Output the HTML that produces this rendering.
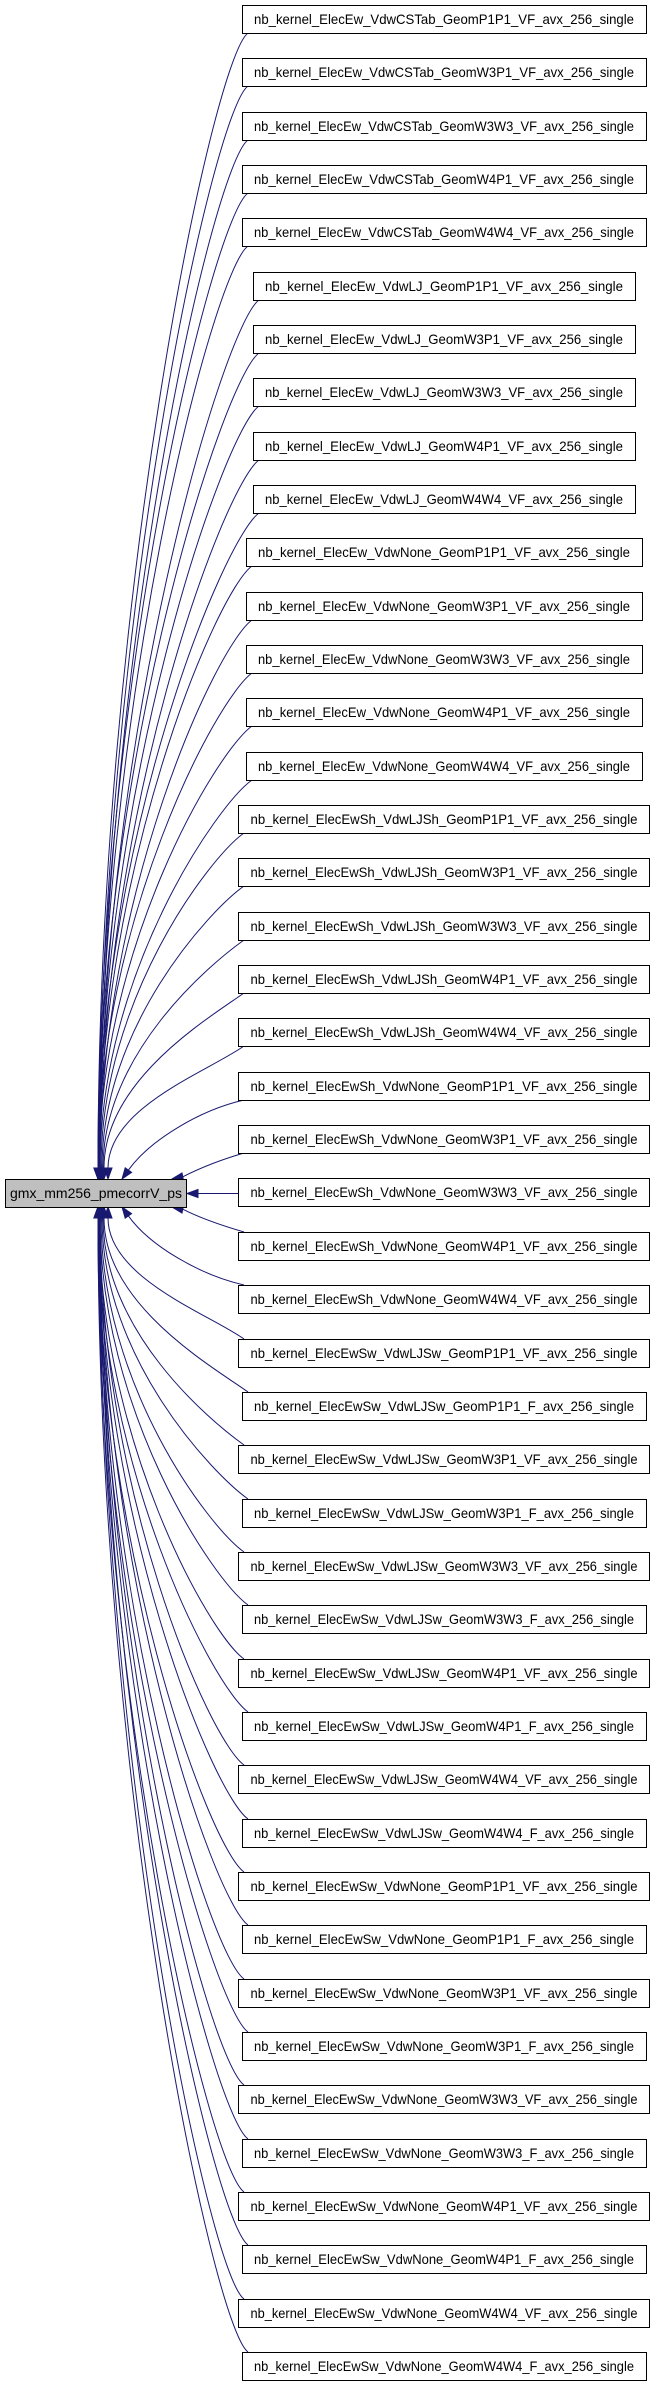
<!DOCTYPE html>
<html><head><meta charset="utf-8"><style>
html,body{margin:0;padding:0;background:#fff;width:659px;height:2387px;overflow:hidden}
svg{display:block}
text{font-family:"Liberation Sans",Arial,sans-serif;font-size:14px;fill:#000}
.e{fill:none;stroke:#191970;stroke-width:1}
.a{fill:#191970;stroke:#191970}
.b{fill:#fff;stroke:#000}
</style></head><body>
<svg width="659" height="2387" viewBox="0 0 659 2387" xmlns="http://www.w3.org/2000/svg">
<g>
<path class="e" d="M248,33 C213,58 98,600 98,1168"/><polygon class="a" points="98,1179 94,1168 102,1168"/>
<path class="e" d="M248,86 C213,111 99,627 99,1168"/><polygon class="a" points="99,1179 95,1168 103,1168"/>
<path class="e" d="M248,140 C213,165 100,654 100,1168"/><polygon class="a" points="100,1179 96,1168 104,1168"/>
<path class="e" d="M248,193 C213,218 98,680 98,1168"/><polygon class="a" points="98,1179 94,1168 102,1168"/>
<path class="e" d="M248,246 C213,271 99,707 99,1168"/><polygon class="a" points="99,1179 95,1168 103,1168"/>
<path class="e" d="M259,300 C224,325 100,734 100,1168"/><polygon class="a" points="100,1179 96,1168 104,1168"/>
<path class="e" d="M259,353 C224,378 98,760 98,1168"/><polygon class="a" points="98,1179 94,1168 102,1168"/>
<path class="e" d="M259,406 C224,431 99,787 99,1168"/><polygon class="a" points="99,1179 95,1168 103,1168"/>
<path class="e" d="M259,460 C224,485 100,814 100,1168"/><polygon class="a" points="100,1179 96,1168 104,1168"/>
<path class="e" d="M259,513 C224,538 98,840 98,1168"/><polygon class="a" points="98,1179 94,1168 102,1168"/>
<path class="e" d="M252,566 C217,591 99,867 99,1168"/><polygon class="a" points="99,1179 95,1168 103,1168"/>
<path class="e" d="M252,620 C217,645 100,894 100,1168"/><polygon class="a" points="100,1179 96,1168 104,1168"/>
<path class="e" d="M252,673 C217,698 98,920 98,1168"/><polygon class="a" points="98,1179 94,1168 102,1168"/>
<path class="e" d="M252,726 C217,751 99,947 99,1168"/><polygon class="a" points="99,1179 95,1168 103,1168"/>
<path class="e" d="M252,780 C217,805 100,974 100,1168"/><polygon class="a" points="100,1179 96,1168 104,1168"/>
<path class="e" d="M244,833 C209,858 101,1000 101,1168"/><polygon class="a" points="101,1179 97,1168 105,1168"/>
<path class="e" d="M244,886 C209,911 102,1027 102,1168"/><polygon class="a" points="102,1179 98,1168 106,1168"/>
<path class="e" d="M244,940 C209,965 103,1054 103,1168"/><polygon class="a" points="103,1179 99,1168 107,1168"/>
<path class="e" d="M244,993 C209,1018 104,1080 104,1168"/><polygon class="a" points="104,1179 100,1168 108,1168"/>
<path class="e" d="M244,1046 C209,1071 108,1107 108,1168"/><polygon class="a" points="108,1179 104,1168 112,1168"/>
<path class="e" d="M244,1100 C200,1110 150,1140 128.4,1170.1"/><polygon class="a" points="122,1179 131.6,1172.4 125.2,1167.8"/>
<path class="e" d="M244,1153 C220,1160 200,1168 182.8,1176.8"/><polygon class="a" points="172,1179 183.6,1180.7 182,1172.9"/>
<path class="e" d="M238,1193.5 L198,1193.5"/><polygon class="a" points="187,1193.5 198,1189.5 198,1197.5"/>
<path class="e" d="M244,1232 C220,1225 200,1218 182.8,1209.2"/><polygon class="a" points="172,1207 183.6,1205.3 182,1213.1"/>
<path class="e" d="M244,1285 C200,1275 150,1246 128.4,1215.9"/><polygon class="a" points="122,1207 131.6,1213.6 125.2,1218.2"/>
<path class="e" d="M244,1339 C209,1314 108,1278 108,1218"/><polygon class="a" points="108,1207 104,1218 112,1218"/>
<path class="e" d="M248,1392 C213,1367 104,1305 104,1218"/><polygon class="a" points="104,1207 100,1218 108,1218"/>
<path class="e" d="M244,1445 C209,1420 103,1331 103,1218"/><polygon class="a" points="103,1207 99,1218 107,1218"/>
<path class="e" d="M248,1499 C213,1474 102,1358 102,1218"/><polygon class="a" points="102,1207 98,1218 106,1218"/>
<path class="e" d="M244,1552 C209,1527 101,1385 101,1218"/><polygon class="a" points="101,1207 97,1218 105,1218"/>
<path class="e" d="M248,1605 C213,1580 100,1411 100,1218"/><polygon class="a" points="100,1207 96,1218 104,1218"/>
<path class="e" d="M244,1659 C209,1634 99,1438 99,1218"/><polygon class="a" points="99,1207 95,1218 103,1218"/>
<path class="e" d="M248,1712 C213,1687 98,1465 98,1218"/><polygon class="a" points="98,1207 94,1218 102,1218"/>
<path class="e" d="M244,1765 C209,1740 100,1491 100,1218"/><polygon class="a" points="100,1207 96,1218 104,1218"/>
<path class="e" d="M248,1819 C213,1794 99,1518 99,1218"/><polygon class="a" points="99,1207 95,1218 103,1218"/>
<path class="e" d="M244,1872 C209,1847 98,1545 98,1218"/><polygon class="a" points="98,1207 94,1218 102,1218"/>
<path class="e" d="M248,1925 C213,1900 100,1571 100,1218"/><polygon class="a" points="100,1207 96,1218 104,1218"/>
<path class="e" d="M244,1979 C209,1954 99,1598 99,1218"/><polygon class="a" points="99,1207 95,1218 103,1218"/>
<path class="e" d="M248,2032 C213,2007 98,1625 98,1218"/><polygon class="a" points="98,1207 94,1218 102,1218"/>
<path class="e" d="M244,2085 C209,2060 100,1651 100,1218"/><polygon class="a" points="100,1207 96,1218 104,1218"/>
<path class="e" d="M248,2139 C213,2114 99,1678 99,1218"/><polygon class="a" points="99,1207 95,1218 103,1218"/>
<path class="e" d="M244,2192 C209,2167 98,1705 98,1218"/><polygon class="a" points="98,1207 94,1218 102,1218"/>
<path class="e" d="M248,2245 C213,2220 100,1731 100,1218"/><polygon class="a" points="100,1207 96,1218 104,1218"/>
<path class="e" d="M244,2299 C209,2274 99,1758 99,1218"/><polygon class="a" points="99,1207 95,1218 103,1218"/>
<path class="e" d="M248,2352 C213,2327 98,1785 98,1218"/><polygon class="a" points="98,1207 94,1218 102,1218"/>
</g>
<rect x="5.5" y="1179.5" width="181" height="28" fill="#bfbfbf" stroke="#000"/>
<text x="96" y="1198" text-anchor="middle">gmx_mm256_pmecorrV_ps</text>
<g text-anchor="middle">
<rect class="b" x="242.5" y="5.5" width="404" height="28"/><text x="444" y="24" textLength="380" lengthAdjust="spacingAndGlyphs">nb_kernel_ElecEw_VdwCSTab_GeomP1P1_VF_avx_256_single</text>
<rect class="b" x="242.5" y="58.5" width="404" height="28"/><text x="444" y="77" textLength="380" lengthAdjust="spacingAndGlyphs">nb_kernel_ElecEw_VdwCSTab_GeomW3P1_VF_avx_256_single</text>
<rect class="b" x="242.5" y="112.5" width="404" height="28"/><text x="444" y="131" textLength="380" lengthAdjust="spacingAndGlyphs">nb_kernel_ElecEw_VdwCSTab_GeomW3W3_VF_avx_256_single</text>
<rect class="b" x="242.5" y="165.5" width="404" height="28"/><text x="444" y="184" textLength="380" lengthAdjust="spacingAndGlyphs">nb_kernel_ElecEw_VdwCSTab_GeomW4P1_VF_avx_256_single</text>
<rect class="b" x="242.5" y="218.5" width="404" height="28"/><text x="444" y="237" textLength="380" lengthAdjust="spacingAndGlyphs">nb_kernel_ElecEw_VdwCSTab_GeomW4W4_VF_avx_256_single</text>
<rect class="b" x="253.5" y="272.5" width="382" height="28"/><text x="444" y="291" textLength="358" lengthAdjust="spacingAndGlyphs">nb_kernel_ElecEw_VdwLJ_GeomP1P1_VF_avx_256_single</text>
<rect class="b" x="253.5" y="325.5" width="382" height="28"/><text x="444" y="344" textLength="358" lengthAdjust="spacingAndGlyphs">nb_kernel_ElecEw_VdwLJ_GeomW3P1_VF_avx_256_single</text>
<rect class="b" x="253.5" y="378.5" width="382" height="28"/><text x="444" y="397" textLength="358" lengthAdjust="spacingAndGlyphs">nb_kernel_ElecEw_VdwLJ_GeomW3W3_VF_avx_256_single</text>
<rect class="b" x="253.5" y="432.5" width="382" height="28"/><text x="444" y="451" textLength="358" lengthAdjust="spacingAndGlyphs">nb_kernel_ElecEw_VdwLJ_GeomW4P1_VF_avx_256_single</text>
<rect class="b" x="253.5" y="485.5" width="382" height="28"/><text x="444" y="504" textLength="358" lengthAdjust="spacingAndGlyphs">nb_kernel_ElecEw_VdwLJ_GeomW4W4_VF_avx_256_single</text>
<rect class="b" x="246.5" y="538.5" width="396" height="28"/><text x="444" y="557" textLength="372" lengthAdjust="spacingAndGlyphs">nb_kernel_ElecEw_VdwNone_GeomP1P1_VF_avx_256_single</text>
<rect class="b" x="246.5" y="592.5" width="396" height="28"/><text x="444" y="611" textLength="372" lengthAdjust="spacingAndGlyphs">nb_kernel_ElecEw_VdwNone_GeomW3P1_VF_avx_256_single</text>
<rect class="b" x="246.5" y="645.5" width="396" height="28"/><text x="444" y="664" textLength="372" lengthAdjust="spacingAndGlyphs">nb_kernel_ElecEw_VdwNone_GeomW3W3_VF_avx_256_single</text>
<rect class="b" x="246.5" y="698.5" width="396" height="28"/><text x="444" y="717" textLength="372" lengthAdjust="spacingAndGlyphs">nb_kernel_ElecEw_VdwNone_GeomW4P1_VF_avx_256_single</text>
<rect class="b" x="246.5" y="752.5" width="396" height="28"/><text x="444" y="771" textLength="372" lengthAdjust="spacingAndGlyphs">nb_kernel_ElecEw_VdwNone_GeomW4W4_VF_avx_256_single</text>
<rect class="b" x="238.5" y="805.5" width="411" height="28"/><text x="444" y="824" textLength="387" lengthAdjust="spacingAndGlyphs">nb_kernel_ElecEwSh_VdwLJSh_GeomP1P1_VF_avx_256_single</text>
<rect class="b" x="238.5" y="858.5" width="411" height="28"/><text x="444" y="877" textLength="387" lengthAdjust="spacingAndGlyphs">nb_kernel_ElecEwSh_VdwLJSh_GeomW3P1_VF_avx_256_single</text>
<rect class="b" x="238.5" y="912.5" width="411" height="28"/><text x="444" y="931" textLength="387" lengthAdjust="spacingAndGlyphs">nb_kernel_ElecEwSh_VdwLJSh_GeomW3W3_VF_avx_256_single</text>
<rect class="b" x="238.5" y="965.5" width="411" height="28"/><text x="444" y="984" textLength="387" lengthAdjust="spacingAndGlyphs">nb_kernel_ElecEwSh_VdwLJSh_GeomW4P1_VF_avx_256_single</text>
<rect class="b" x="238.5" y="1018.5" width="411" height="28"/><text x="444" y="1037" textLength="387" lengthAdjust="spacingAndGlyphs">nb_kernel_ElecEwSh_VdwLJSh_GeomW4W4_VF_avx_256_single</text>
<rect class="b" x="238.5" y="1072.5" width="411" height="28"/><text x="444" y="1091" textLength="387" lengthAdjust="spacingAndGlyphs">nb_kernel_ElecEwSh_VdwNone_GeomP1P1_VF_avx_256_single</text>
<rect class="b" x="238.5" y="1125.5" width="411" height="28"/><text x="444" y="1144" textLength="387" lengthAdjust="spacingAndGlyphs">nb_kernel_ElecEwSh_VdwNone_GeomW3P1_VF_avx_256_single</text>
<rect class="b" x="238.5" y="1178.5" width="411" height="28"/><text x="444" y="1197" textLength="387" lengthAdjust="spacingAndGlyphs">nb_kernel_ElecEwSh_VdwNone_GeomW3W3_VF_avx_256_single</text>
<rect class="b" x="238.5" y="1232.5" width="411" height="28"/><text x="444" y="1251" textLength="387" lengthAdjust="spacingAndGlyphs">nb_kernel_ElecEwSh_VdwNone_GeomW4P1_VF_avx_256_single</text>
<rect class="b" x="238.5" y="1285.5" width="411" height="28"/><text x="444" y="1304" textLength="387" lengthAdjust="spacingAndGlyphs">nb_kernel_ElecEwSh_VdwNone_GeomW4W4_VF_avx_256_single</text>
<rect class="b" x="238.5" y="1339.5" width="411" height="28"/><text x="444" y="1358" textLength="387" lengthAdjust="spacingAndGlyphs">nb_kernel_ElecEwSw_VdwLJSw_GeomP1P1_VF_avx_256_single</text>
<rect class="b" x="242.5" y="1392.5" width="404" height="28"/><text x="444" y="1411" textLength="380" lengthAdjust="spacingAndGlyphs">nb_kernel_ElecEwSw_VdwLJSw_GeomP1P1_F_avx_256_single</text>
<rect class="b" x="238.5" y="1445.5" width="411" height="28"/><text x="444" y="1464" textLength="387" lengthAdjust="spacingAndGlyphs">nb_kernel_ElecEwSw_VdwLJSw_GeomW3P1_VF_avx_256_single</text>
<rect class="b" x="242.5" y="1499.5" width="404" height="28"/><text x="444" y="1518" textLength="380" lengthAdjust="spacingAndGlyphs">nb_kernel_ElecEwSw_VdwLJSw_GeomW3P1_F_avx_256_single</text>
<rect class="b" x="238.5" y="1552.5" width="411" height="28"/><text x="444" y="1571" textLength="387" lengthAdjust="spacingAndGlyphs">nb_kernel_ElecEwSw_VdwLJSw_GeomW3W3_VF_avx_256_single</text>
<rect class="b" x="242.5" y="1605.5" width="404" height="28"/><text x="444" y="1624" textLength="380" lengthAdjust="spacingAndGlyphs">nb_kernel_ElecEwSw_VdwLJSw_GeomW3W3_F_avx_256_single</text>
<rect class="b" x="238.5" y="1659.5" width="411" height="28"/><text x="444" y="1678" textLength="387" lengthAdjust="spacingAndGlyphs">nb_kernel_ElecEwSw_VdwLJSw_GeomW4P1_VF_avx_256_single</text>
<rect class="b" x="242.5" y="1712.5" width="404" height="28"/><text x="444" y="1731" textLength="380" lengthAdjust="spacingAndGlyphs">nb_kernel_ElecEwSw_VdwLJSw_GeomW4P1_F_avx_256_single</text>
<rect class="b" x="238.5" y="1765.5" width="411" height="28"/><text x="444" y="1784" textLength="387" lengthAdjust="spacingAndGlyphs">nb_kernel_ElecEwSw_VdwLJSw_GeomW4W4_VF_avx_256_single</text>
<rect class="b" x="242.5" y="1819.5" width="404" height="28"/><text x="444" y="1838" textLength="380" lengthAdjust="spacingAndGlyphs">nb_kernel_ElecEwSw_VdwLJSw_GeomW4W4_F_avx_256_single</text>
<rect class="b" x="238.5" y="1872.5" width="411" height="28"/><text x="444" y="1891" textLength="387" lengthAdjust="spacingAndGlyphs">nb_kernel_ElecEwSw_VdwNone_GeomP1P1_VF_avx_256_single</text>
<rect class="b" x="242.5" y="1925.5" width="404" height="28"/><text x="444" y="1944" textLength="380" lengthAdjust="spacingAndGlyphs">nb_kernel_ElecEwSw_VdwNone_GeomP1P1_F_avx_256_single</text>
<rect class="b" x="238.5" y="1979.5" width="411" height="28"/><text x="444" y="1998" textLength="387" lengthAdjust="spacingAndGlyphs">nb_kernel_ElecEwSw_VdwNone_GeomW3P1_VF_avx_256_single</text>
<rect class="b" x="242.5" y="2032.5" width="404" height="28"/><text x="444" y="2051" textLength="380" lengthAdjust="spacingAndGlyphs">nb_kernel_ElecEwSw_VdwNone_GeomW3P1_F_avx_256_single</text>
<rect class="b" x="238.5" y="2085.5" width="411" height="28"/><text x="444" y="2104" textLength="387" lengthAdjust="spacingAndGlyphs">nb_kernel_ElecEwSw_VdwNone_GeomW3W3_VF_avx_256_single</text>
<rect class="b" x="242.5" y="2139.5" width="404" height="28"/><text x="444" y="2158" textLength="380" lengthAdjust="spacingAndGlyphs">nb_kernel_ElecEwSw_VdwNone_GeomW3W3_F_avx_256_single</text>
<rect class="b" x="238.5" y="2192.5" width="411" height="28"/><text x="444" y="2211" textLength="387" lengthAdjust="spacingAndGlyphs">nb_kernel_ElecEwSw_VdwNone_GeomW4P1_VF_avx_256_single</text>
<rect class="b" x="242.5" y="2245.5" width="404" height="28"/><text x="444" y="2264" textLength="380" lengthAdjust="spacingAndGlyphs">nb_kernel_ElecEwSw_VdwNone_GeomW4P1_F_avx_256_single</text>
<rect class="b" x="238.5" y="2299.5" width="411" height="28"/><text x="444" y="2318" textLength="387" lengthAdjust="spacingAndGlyphs">nb_kernel_ElecEwSw_VdwNone_GeomW4W4_VF_avx_256_single</text>
<rect class="b" x="242.5" y="2352.5" width="404" height="28"/><text x="444" y="2371" textLength="380" lengthAdjust="spacingAndGlyphs">nb_kernel_ElecEwSw_VdwNone_GeomW4W4_F_avx_256_single</text>
</g>
</svg>
</body></html>
